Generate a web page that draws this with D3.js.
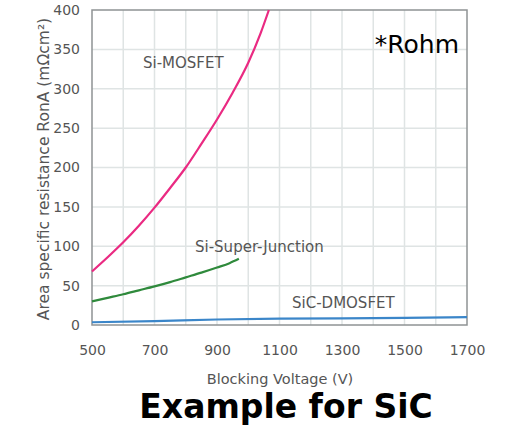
<!DOCTYPE html>
<html>
<head>
<meta charset="utf-8">
<script src="https://cdn.jsdelivr.net/npm/d3@7"></script>
<style>
  body { margin: 0; background: #fff; }
  text { font-family: "DejaVu Sans", sans-serif; }
</style>
</head>
<body>
<svg id="chart" width="507" height="432"></svg>
<script>
// data
var xTicks = [500, 700, 900, 1100, 1300, 1500, 1700];
var yTicks = [0, 50, 100, 150, 200, 250, 300, 350, 400];

var siMosV = [500, 550, 600, 650, 700, 750, 800, 850, 900, 950, 1000, 1040, 1066];
var siMosR = [68, 86, 105, 126, 149, 174, 200, 230, 261, 295, 333, 371, 400];

var sjV = [500, 550, 600, 650, 700, 750, 800, 850, 900, 940, 970];
var sjR = [30, 34.5, 39, 44, 49, 54.5, 60.5, 66.5, 73, 78.5, 84];

var sicV = [500, 700, 900, 1100, 1300, 1500, 1700];
var sicR = [3.5, 5, 7, 8, 8.5, 9, 10];

var svg = d3.select("#chart");
var plotL = 92, plotR = 467, plotT = 10, plotB = 325;

var x = d3.scaleLinear().domain([500, 1700]).range([plotL, plotR]);
var y = d3.scaleLinear().domain([0, 400]).range([plotB, plotT]);

// grid
svg.append("g").selectAll("line")
  .data(d3.range(600, 1700, 100))
  .enter().append("line")
  .attr("x1", function(d){ return x(d) }).attr("x2", function(d){ return x(d) })
  .attr("y1", plotT).attr("y2", plotB)
  .attr("stroke", "#dfe4e4").attr("stroke-width", 1.5)

svg.append("g").selectAll("line")
  .data(yTicks.slice(1, -1))
  .enter().append("line")
  .attr("y1", function(d){ return y(d) }).attr("y2", function(d){ return y(d) })
  .attr("x1", plotL).attr("x2", plotR)
  .attr("stroke", "#dfe4e4").attr("stroke-width", 1.5)

// frame
svg.append("rect")
  .attr("x", plotL).attr("y", plotT)
  .attr("width", plotR - plotL).attr("height", plotB - plotT)
  .attr("fill", "none").attr("stroke", "#8f9394").attr("stroke-width", 1.5)

// axes (labels only)
var xAxis = svg.append("g").attr("transform", "translate(0," + plotB + ")")
  .call(d3.axisBottom(x).tickValues(xTicks).tickSize(0).tickPadding(20).tickFormat(d3.format("d")))
var yAxis = svg.append("g").attr("transform", "translate(" + plotL + ",0)")
  .call(d3.axisLeft(y).tickValues(yTicks).tickSize(0).tickPadding(12))
xAxis.select(".domain").remove()
yAxis.select(".domain").remove()
svg.selectAll(".tick text")
  .attr("font-family", "DejaVu Sans").attr("font-size", 14).attr("fill", "#555")

// curves
var line = d3.line()
  .x(function(d){ return x(d[0]) })
  .y(function(d){ return y(d[1]) })
  .curve(d3.curveMonotoneX)

function series(v, r, color){
  svg.append("path")
    .datum(d3.zip(v, r))
    .attr("d", line)
    .attr("fill", "none")
    .attr("stroke", color)
    .attr("stroke-width", 2.2)
}
series(sicV, sicR, "#3b86c9")
series(sjV, sjR, "#2f8a3c")
series(siMosV, siMosR, "#ea2a82")

// curve labels
function label(t, px, py){
  svg.append("text").attr("x", px).attr("y", py)
    .attr("font-size", 15).attr("fill", "#555").text(t)
}
label("Si-MOSFET", 143, 68)
label("Si-Super-Junction", 195, 252)
label("SiC-DMOSFET", 292, 308)

// axis titles
svg.append("text")
  .attr("transform", "translate(49,169) rotate(-90)")
  .attr("text-anchor", "middle")
  .attr("font-size", 15.5).attr("fill", "#555")
  .text("Area specific resistance RonA (mΩcm²)")

svg.append("text")
  .attr("x", 280).attr("y", 384)
  .attr("text-anchor", "middle")
  .attr("font-size", 14.5).attr("fill", "#555")
  .text("Blocking Voltage (V)")

svg.append("text")
  .attr("x", 459).attr("y", 53)
  .attr("text-anchor", "end")
  .attr("font-family", "Lato").attr("font-size", 25).attr("fill", "#000")
  .text("*Rohm")

svg.append("text")
  .attr("x", 286).attr("y", 418)
  .attr("text-anchor", "middle")
  .attr("font-family", "Lato").attr("font-weight", "bold").attr("font-size", 33).attr("fill", "#000")
  .text("Example for SiC")
</script>
</body>
</html>
